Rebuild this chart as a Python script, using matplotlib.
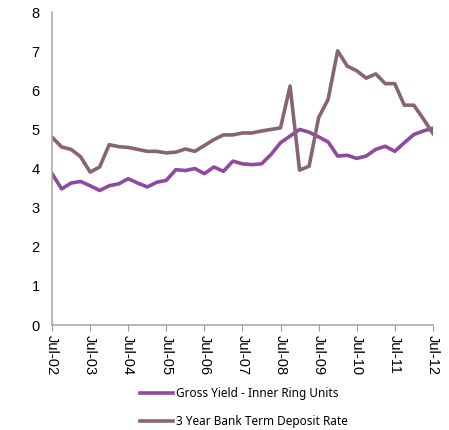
import matplotlib.pyplot as plt

# Data (quarterly, Jul-02 to Jul-12)
quarters = list(range(41))
tick_labels = ['Jul-02', 'Jul-03', 'Jul-04', 'Jul-05', 'Jul-06', 'Jul-07',
               'Jul-08', 'Jul-09', 'Jul-10', 'Jul-11', 'Jul-12']
gross_yield = [3.87, 3.48, 3.63, 3.67, 3.56, 3.44, 3.56, 3.61, 3.74, 3.63,
               3.53, 3.65, 3.70, 3.97, 3.95, 4.00, 3.87, 4.04, 3.93, 4.19,
               4.12, 4.10, 4.12, 4.36, 4.66, 4.83, 5.00, 4.93, 4.81, 4.68,
               4.32, 4.34, 4.26, 4.32, 4.49, 4.57, 4.44, 4.66, 4.87, 4.96,
               5.03]
term_deposit = [4.80, 4.55, 4.49, 4.30, 3.91, 4.04, 4.61, 4.56, 4.54, 4.49,
                4.44, 4.44, 4.40, 4.42, 4.50, 4.44, 4.59, 4.74, 4.86, 4.86,
                4.91, 4.91, 4.96, 5.00, 5.04, 6.11, 3.96, 4.06, 5.30, 5.77,
                7.01, 6.62, 6.50, 6.31, 6.42, 6.17, 6.17, 5.62, 5.62, 5.27,
                4.90]

fig = plt.figure(figsize=(4.49, 4.30), dpi=100)
ax = fig.add_axes([0.116, 0.244, 0.848, 0.728])

ax.plot(quarters, gross_yield, color='#8e4a9e', lw=2.6,
        label='Gross Yield - Inner Ring Units')
ax.plot(quarters, term_deposit, color='#876475', lw=2.6,
        label='3 Year Bank Term Deposit Rate')

ax.set_xlim(0, 40)
ax.set_ylim(0, 8)
ax.set_xticks(quarters[::4])
ax.set_xticklabels(tick_labels, rotation=-90, fontsize=10.5,
                   family='Liberation Sans')
ax.set_yticks(range(9))
ax.set_yticklabels(range(9), fontsize=10.5, family='Liberation Sans')
ax.tick_params(axis='y', length=0, pad=9)
ax.tick_params(axis='x', length=4, color='#999999', pad=3)

for s in ['top', 'right']:
    ax.spines[s].set_visible(False)
for s in ['left', 'bottom']:
    ax.spines[s].set_color('#aaaaaa')
    ax.spines[s].set_linewidth(1.2)

fig.legend(loc='upper left', bbox_to_anchor=(0.312, 0.1), frameon=False,
           borderpad=0, borderaxespad=0,
           handlelength=2.8, handletextpad=0.25, labelspacing=1.3,
           prop={'family': 'Noto Sans', 'size': 8.5})

plt.savefig('out.png', dpi=100)
